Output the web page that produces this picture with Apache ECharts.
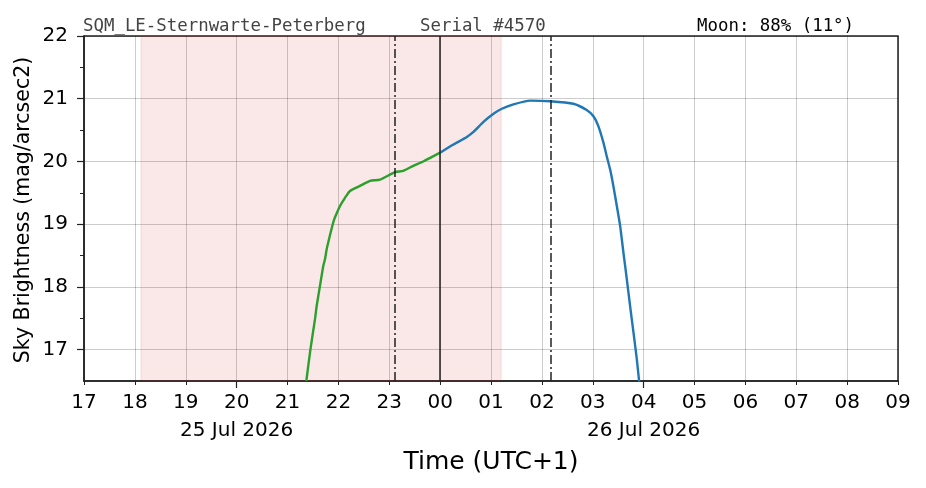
<!DOCTYPE html>
<html>
<head>
<meta charset="utf-8">
<script src="https://cdn.jsdelivr.net/npm/echarts@6/dist/echarts.min.js"></script>
<style>html,body{margin:0;padding:0;background:#fff}#c{width:926px;height:488px}</style>
</head>
<body>
<div id="c"></div>
<script>
// Time values are hours after 17:00 (local, UTC+1) on 25 Jul 2026
const hourTickLabels = ['17','18','19','20','21','22','23','00','01','02','03','04','05','06','07','08','09'];
const dateTickPositions = [3, 11];
const dateTickLabels = ['25 Jul 2026', '26 Jul 2026'];

const greenTimes = [4.37, 4.45, 4.541, 4.574, 4.639, 4.705, 4.737, 4.770, 4.849, 4.900, 4.934, 5.032, 5.130, 5.228, 5.425, 5.622, 5.818, 6.113, 6.276, 6.473, 6.669, 7.0];
const greenMag   = [16.50, 17.0, 17.49, 17.70, 18.02, 18.34, 18.44, 18.60, 18.87, 19.03, 19.11, 19.29, 19.42, 19.53, 19.61, 19.69, 19.71, 19.83, 19.85, 19.93, 20.00, 20.14];

const blueTimes = [7.0, 7.262, 7.524, 7.655, 7.852, 8.049, 8.213, 8.44, 8.77, 9.163, 9.62, 9.88, 10.014, 10.112, 10.21, 10.276, 10.342, 10.407, 10.473, 10.539, 10.604, 10.670, 10.735, 10.801, 10.867, 10.912];
const blueMag   = [20.14, 20.27, 20.39, 20.47, 20.63, 20.76, 20.84, 20.91, 20.97, 20.96, 20.92, 20.82, 20.72, 20.56, 20.30, 20.08, 19.87, 19.60, 19.29, 18.97, 18.54, 18.12, 17.69, 17.27, 16.84, 16.49];

const shadeStart = 1.12, shadeEnd = 8.20;          // 18:07 .. 01:12
const dashDotLines = [6.113, 9.18];                  // 23:07, 02:11
const midnightLine = [7.0];

const yIntegerTicks = [17, 18, 19, 20, 21, 22];
const yHalfTicks = [17.5, 18.5, 19.5, 20.5, 21.5];

const titleLeft = 'SQM_LE-Sternwarte-Peterberg';
const titleMid = 'Serial #4570';
const titleRight = 'Moon: 88% (11\u00b0)';
const yTitle = 'Sky Brightness (mag/arcsec2)';
const xTitle = 'Time (UTC+1)';

const pair = (t, m) => t.map((v, i) => [v, m[i]]);
const FONT = '"DejaVu Sans", sans-serif';
const MONO = '"DejaVu Sans Mono", monospace';
const dashDot = [9, 3, 2, 3];

const chart = echarts.init(document.getElementById('c'), null, {renderer: 'canvas'});
chart.setOption({
  animation: false,
  backgroundColor: '#fff',
  grid: {left: 84, right: 28, top: 36, bottom: 107, show: true, borderColor: '#222', borderWidth: 1.5, backgroundColor: 'transparent'},
  xAxis: [{
    type: 'value', min: 0, max: 16, interval: 1,
    axisLine: {show: true, lineStyle: {color: '#222', width: 1.5}},
    axisTick: {show: true, length: 4, lineStyle: {color: '#222', width: 1}},
    axisLabel: {fontFamily: FONT, fontSize: 20, color: '#000', margin: 12,
      formatter: v => hourTickLabels[Math.round(v)] || ''},
    splitLine: {show: true, lineStyle: {color: 'rgba(0,0,0,0.25)', width: 0.8}},
    name: xTitle, nameLocation: 'middle', nameGap: 69,
    nameTextStyle: {fontFamily: FONT, fontSize: 25, color: '#000'}
  }, {
    type: 'value', min: 0, max: 16, position: 'bottom',
    axisLine: {show: false},
    axisTick: {show: true, length: 7, customValues: dateTickPositions, lineStyle: {color: '#222', width: 1.2}},
    axisLabel: {show: true, customValues: dateTickPositions, fontFamily: FONT, fontSize: 20, color: '#000', margin: 40,
      formatter: v => dateTickLabels[dateTickPositions.indexOf(Math.round(v))] || ''},
    splitLine: {show: false}
  }],
  yAxis: [{
    type: 'value', min: 16.5, max: 22, interval: 0.5,
    axisLine: {show: true, lineStyle: {color: '#222', width: 1.5}},
    axisTick: {show: true, length: 7, customValues: yIntegerTicks, lineStyle: {color: '#222', width: 1.2}},
    axisLabel: {customValues: yIntegerTicks, fontFamily: FONT, fontSize: 20, color: '#000', margin: 16,
      formatter: v => String(Math.round(v))},
    splitLine: {show: true, lineStyle: {color: 'rgba(0,0,0,0.25)', width: 0.8}}
  }, {
    type: 'value', min: 16.5, max: 22, position: 'left',
    axisLine: {show: false},
    axisTick: {show: true, length: 4, customValues: yHalfTicks, lineStyle: {color: '#222', width: 1}},
    axisLabel: {show: false},
    splitLine: {show: false}
  }],
  graphic: [
    {type: 'text', left: 83, top: 18, style: {text: titleLeft, font: '17.4px ' + MONO, fill: '#444'}},
    {type: 'text', left: 420, top: 18, style: {text: titleMid, font: '17.4px ' + MONO, fill: '#444'}},
    {type: 'text', left: 697, top: 18, style: {text: titleRight, font: '17.4px ' + MONO, fill: '#000'}},
    {type: 'text', x: 24, y: 210, rotation: Math.PI / 2,
      style: {text: yTitle, font: '20.5px ' + FONT, fill: '#000', textAlign: 'center', textVerticalAlign: 'middle'}}
  ],
  series: [{
    type: 'line', name: 'shade', data: [], silent: true,
    markArea: {silent: true, itemStyle: {color: 'rgba(214,39,40,0.11)', borderColor: 'rgba(214,39,40,0.12)', borderWidth: 1},
      data: [[{xAxis: shadeStart}, {xAxis: shadeEnd}]]},
    markLine: {silent: true, symbol: 'none', label: {show: false},
      data: [
        ...dashDotLines.map(x => ({xAxis: x, lineStyle: {color: '#222', width: 1.5, type: dashDot}})),
        ...midnightLine.map(x => ({xAxis: x, lineStyle: {color: '#222', width: 1.5, type: 'solid'}}))
      ]}
  }, {
    type: 'line', name: 'green', data: pair(greenTimes, greenMag), showSymbol: false, smooth: 0.2,
    lineStyle: {color: '#2ca02c', width: 2.4}, clip: true, z: 3
  }, {
    type: 'line', name: 'blue', data: pair(blueTimes, blueMag), showSymbol: false, smooth: 0.2,
    lineStyle: {color: '#1f77b4', width: 2.4}, clip: true, z: 3
  }]
});
</script>
</body>
</html>
